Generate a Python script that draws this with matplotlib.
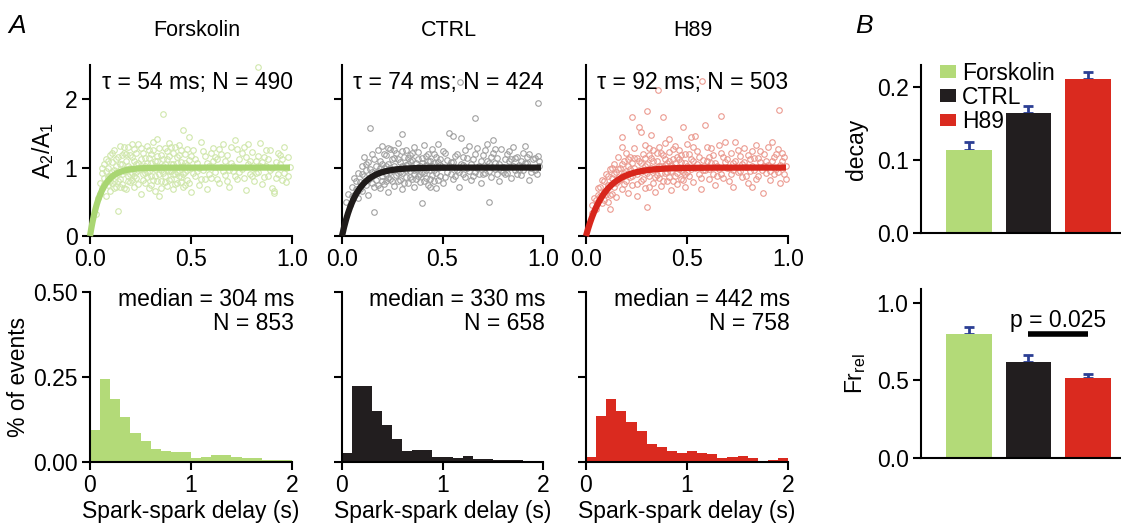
import numpy as np
import matplotlib
matplotlib.use("Agg")
import matplotlib.pyplot as plt
from matplotlib.patches import Patch

plt.rcParams['font.family'] = ['Liberation Sans', 'DejaVu Sans']
plt.rcParams['mathtext.fontset'] = 'custom'
plt.rcParams['mathtext.rm'] = 'Liberation Sans'
plt.rcParams['mathtext.it'] = 'Liberation Sans:italic'

# ---------------- data ----------------
groups = ["Forskolin", "CTRL", "H89"]
colors = ["#b3da78", "#221e1f", "#da2a1f"]
fit_colors = ["#a9d672", "#1f1b1a", "#d8261c"]
marker_colors = ["#d0e7ac", "#a0a0a0", "#eb9a90"]

tau_ms = [54, 74, 92]
n_pairs = [490, 424, 503]
median_ms = [304, 330, 442]
n_events = [853, 658, 758]

forskolin_scatter = [
 (0.03,0.32),(0.04,0.55),(0.05,0.62),(0.05,0.78),(0.06,0.70),(0.06,0.92),(0.07,0.85),(0.07,1.05),(0.08,0.58),(0.08,0.95),
 (0.08,1.12),(0.09,0.74),(0.09,0.99),(0.10,0.88),(0.10,1.18),(0.10,0.66),(0.11,0.93),(0.11,1.08),(0.12,0.80),(0.12,1.25),
 (0.12,0.97),(0.13,0.71),(0.13,1.02),(0.14,0.37),(0.14,0.90),(0.14,1.15),(0.15,0.83),(0.15,1.32),
 (0.16,1.05),(0.16,0.76),(0.17,0.95),(0.17,1.21),(0.18,0.68),(0.18,1.10),(0.19,0.88),(0.19,1.30),(0.20,1.00),(0.20,0.79),
 (0.21,1.16),(0.21,0.92),(0.22,0.72),(0.22,1.27),(0.23,1.05),(0.23,0.85),(0.24,0.96),(0.24,1.35),(0.25,0.62),(0.25,1.12),
 (0.26,0.90),(0.26,1.22),(0.27,0.78),(0.27,1.03),(0.28,0.94),(0.28,1.31),(0.29,0.70),(0.29,1.14),(0.30,0.87),(0.30,1.07),
 (0.31,1.25),(0.31,0.82),(0.32,0.98),(0.32,0.66),(0.33,1.42),(0.33,1.09),(0.34,0.91),(0.34,0.58),(0.35,1.19),(0.35,0.80),
 (0.36,1.78),(0.36,1.02),(0.37,0.88),(0.37,1.29),(0.38,0.73),(0.38,1.12),(0.39,0.95),(0.39,1.36),(0.40,0.84),(0.40,1.05),
 (0.41,0.68),(0.41,1.22),(0.42,1.00),(0.42,0.90),(0.43,1.15),(0.43,0.77),(0.44,1.33),(0.44,0.97),(0.45,0.86),(0.45,1.08),
 (0.46,1.55),(0.46,0.71),(0.47,1.20),(0.47,0.93),(0.48,1.04),(0.48,0.82),(0.49,1.45),(0.49,1.11),(0.50,0.64),(0.50,0.99),
 (0.51,1.26),(0.52,0.88),(0.53,1.06),(0.54,0.75),(0.55,1.37),(0.56,0.96),(0.57,1.17),(0.58,0.69),(0.59,1.03),(0.60,0.85),
 (0.61,1.28),(0.62,0.93),(0.63,1.12),(0.64,0.78),(0.65,1.01),(0.66,1.34),(0.67,0.89),(0.68,1.19),(0.69,0.72),(0.70,1.07),
 (0.71,0.95),(0.72,1.40),(0.73,0.83),(0.74,1.13),(0.75,0.98),(0.76,1.30),(0.77,0.67),(0.78,1.05),(0.79,0.90),(0.80,1.23),
 (0.81,0.80),(0.82,1.10),(0.83,2.47),(0.83,0.94),(0.84,1.36),(0.85,0.76),(0.86,1.16),(0.87,1.02),(0.88,0.87),(0.89,1.25),
 (0.90,0.70),(0.91,0.66),(0.91,0.63),(0.92,1.08),(0.93,0.91),(0.94,1.19),(0.95,0.82),(0.96,1.30),(0.97,1.00),(0.98,0.88),
 (0.99,1.01),(0.18,0.98),(0.20,1.18),(0.22,0.88),(0.24,1.07),(0.26,0.99),(0.28,0.86),(0.30,1.20),(0.32,1.10),(0.34,1.01),
 (0.36,0.92),(0.38,1.24),(0.40,0.95),(0.42,1.30),(0.44,0.88),(0.46,1.02),(0.48,1.27),(0.53,0.95),(0.57,0.84),(0.61,1.10),
 (0.65,1.20),(0.69,0.97),(0.73,1.27),(0.77,1.15),(0.81,0.99),(0.85,1.08),(0.89,0.96),(0.93,1.22),(0.97,0.79),
 (0.06,1.00),(0.07,0.76),(0.09,1.10),(0.10,0.80),(0.11,1.21),(0.12,0.70),(0.13,1.12),(0.14,0.80),(0.15,1.05),(0.16,0.91),
 (0.17,1.30),(0.17,0.70),(0.18,1.20),(0.19,0.80),(0.19,1.03),(0.20,0.90),(0.21,1.35),(0.21,0.82),(0.22,1.10),(0.23,0.94),
 (0.23,1.22),(0.24,0.76),(0.25,1.02),(0.25,1.29),(0.26,0.82),(0.27,1.14),(0.27,0.92),(0.28,1.06),(0.29,0.95),(0.29,1.25),
 (0.30,0.75),(0.31,0.99),(0.31,1.38),(0.32,0.88),(0.33,0.80),(0.33,1.17),(0.34,1.28),(0.35,0.96),(0.35,0.70),(0.36,1.13),
 (0.37,0.79),(0.37,1.05),(0.38,0.97),(0.39,0.82),(0.39,1.17),(0.40,1.30),(0.41,0.91),(0.41,1.05),(0.42,0.76),(0.43,1.06),
 (0.43,0.94),(0.44,1.19),(0.45,0.79),(0.45,1.26),(0.46,0.90),(0.47,1.06),(0.47,0.74),(0.48,0.96),(0.49,0.78),(0.50,1.17),
 (0.51,0.92),(0.52,1.12),(0.54,1.00),(0.55,0.83),(0.56,1.24),(0.58,1.07),(0.59,0.90),(0.60,1.21),(0.62,1.15),(0.63,0.84),
 (0.64,1.27),(0.66,0.95),(0.67,1.10),(0.68,0.80),(0.70,1.30),(0.71,1.02),(0.72,0.88),(0.74,0.93),(0.75,1.22),(0.76,0.85),
 (0.78,1.35),(0.79,1.10),(0.80,0.88),(0.82,0.92),(0.83,1.17),(0.84,1.03),(0.86,0.86),(0.87,1.26),(0.88,1.12),(0.90,1.00),
 (0.92,0.85),(0.94,1.05),(0.95,1.12),(0.96,0.92),(0.98,1.15),(0.09,0.86),(0.11,0.78),(0.13,0.92),(0.15,0.72),(0.16,1.18),
]

ctrl_scatter = [
 (0.02,0.50),(0.03,0.62),(0.04,0.45),(0.05,0.72),(0.06,0.60),(0.06,0.85),(0.07,0.68),(0.08,0.92),(0.08,0.55),(0.09,0.79),
 (0.10,1.02),(0.10,0.66),(0.11,0.88),(0.11,1.15),(0.12,0.74),(0.12,0.97),(0.13,0.60),(0.13,1.08),(0.14,1.58),(0.14,0.85),
 (0.15,1.20),(0.15,0.93),(0.16,0.35),(0.16,0.72),(0.17,1.03),(0.17,0.82),(0.18,1.25),(0.18,0.95),
 (0.19,0.70),(0.19,1.10),(0.20,0.88),(0.20,1.32),(0.21,0.99),(0.21,0.76),(0.22,1.18),(0.22,0.91),(0.23,1.05),(0.23,0.65),
 (0.24,0.84),(0.24,1.27),(0.25,0.97),(0.25,1.12),(0.26,0.73),(0.26,1.02),(0.27,1.21),(0.27,0.89),(0.28,0.80),(0.28,1.36),
 (0.29,1.08),(0.29,0.94),(0.30,1.49),(0.30,0.68),(0.31,1.00),(0.31,1.16),(0.32,0.86),(0.32,1.26),(0.33,0.77),(0.33,1.05),
 (0.34,0.95),(0.34,1.19),(0.35,0.83),(0.35,1.11),(0.36,1.30),(0.36,0.72),(0.37,0.98),(0.37,1.07),(0.38,0.88),(0.38,1.23),
 (0.39,1.02),(0.39,0.79),(0.40,0.48),(0.40,1.14),(0.41,0.92),(0.41,1.33),(0.42,1.04),(0.42,0.85),(0.43,0.74),(0.43,1.20),
 (0.44,0.96),(0.44,1.10),(0.45,1.27),(0.45,0.89),(0.46,0.81),(0.46,1.06),(0.47,1.16),(0.47,0.70),(0.48,0.99),(0.48,1.35),
 (0.49,0.87),(0.49,1.13),(0.50,1.01),(0.50,0.78),
 (0.51,1.22),(0.52,0.93),(0.53,1.50),(0.54,1.08),(0.55,1.46),(0.55,0.84),(0.56,1.17),(0.57,0.96),(0.58,0.72),(0.59,1.44),
 (0.59,1.05),(0.586,2.25),(0.60,0.90),(0.61,1.25),(0.62,0.99),(0.63,1.32),(0.64,0.82),(0.65,1.12),(0.66,1.73),(0.66,0.94),
 (0.67,1.28),(0.68,1.03),(0.69,0.77),(0.70,1.18),(0.71,0.92),(0.72,1.35),(0.73,0.49),(0.73,1.07),(0.74,0.86),(0.75,1.40),
 (0.75,1.21),(0.76,0.98),(0.77,1.14),(0.78,0.80),(0.79,1.27),(0.80,1.01),(0.81,0.90),(0.82,1.20),(0.83,1.09),(0.84,0.85),
 (0.85,1.30),(0.86,0.96),(0.87,1.16),(0.88,1.04),(0.89,0.89),(0.90,1.22),(0.91,1.32),(0.92,1.06),(0.93,0.82),(0.94,0.93),
 (0.95,1.12),(0.96,0.97),(0.975,1.17),(0.975,1.94),(0.98,1.02),
 (0.20,1.05),(0.22,0.80),(0.24,1.00),(0.26,1.14),(0.28,0.92),(0.30,1.03),(0.32,0.96),(0.34,1.09),(0.36,0.90),(0.38,1.01),
 (0.40,0.93),(0.42,1.17),(0.44,0.83),(0.46,0.97),(0.48,1.08),(0.52,1.11),(0.56,0.88),(0.60,1.15),(0.64,1.05),(0.68,0.91),
 (0.72,1.10),(0.76,1.06),(0.80,0.94),(0.84,1.13),(0.88,0.97),(0.92,1.15),
 (0.05,0.58),(0.07,0.80),(0.09,0.68),(0.10,0.90),(0.12,1.05),(0.13,0.82),(0.14,0.98),(0.15,0.78),(0.16,1.12),(0.17,0.92),
 (0.18,0.74),(0.19,1.00),(0.20,0.80),(0.21,1.20),(0.22,1.02),(0.23,0.85),(0.23,1.28),(0.24,0.93),(0.25,0.80),(0.26,1.25),
 (0.27,0.98),(0.28,1.12),(0.29,0.82),(0.30,0.92),(0.30,1.24),(0.31,0.78),(0.32,1.04),(0.33,1.14),(0.34,0.86),(0.35,1.01),
 (0.35,1.22),(0.36,0.96),(0.37,0.84),(0.38,1.12),(0.39,0.90),(0.40,1.06),(0.41,0.80),(0.42,0.96),(0.43,1.10),(0.44,0.72),
 (0.45,1.03),(0.46,1.20),(0.47,0.92),(0.48,0.82),(0.49,1.04),(0.50,1.24),(0.51,0.86),(0.53,1.02),(0.54,0.90),(0.55,1.08),
 (0.57,1.20),(0.58,0.94),(0.60,1.04),(0.61,0.86),(0.62,1.14),(0.63,0.95),(0.65,0.88),(0.66,1.20),(0.67,1.00),(0.69,1.10),
 (0.70,0.90),(0.71,1.26),(0.73,0.95),(0.74,1.15),(0.76,1.27),(0.77,0.90),(0.78,1.05),(0.79,0.96),(0.81,1.12),(0.82,0.92),
 (0.83,1.24),(0.85,1.02),(0.86,1.14),(0.87,0.90),(0.89,1.10),(0.90,0.96),(0.91,1.06),(0.93,1.20),(0.94,1.00),(0.96,1.14),
 (0.97,0.90),(0.98,1.10),
]

h89_scatter = [
 (0.03,0.33),(0.03,0.45),(0.04,0.55),(0.05,0.40),(0.06,0.70),(0.07,0.58),(0.08,0.82),(0.08,0.48),(0.09,0.65),(0.10,0.90),
 (0.11,0.50),(0.11,0.75),(0.12,0.40),(0.12,0.98),(0.13,0.62),(0.13,0.85),(0.14,1.05),(0.14,0.72),(0.15,0.93),(0.15,0.57),
 (0.16,1.15),(0.16,0.80),(0.177,1.45),(0.177,1.30),(0.17,0.99),(0.18,0.68),(0.18,0.88),(0.19,1.10),(0.19,0.76),
 (0.20,0.95),(0.20,1.22),(0.21,0.63),(0.21,1.03),(0.22,0.86),(0.22,1.16),(0.23,1.74),(0.23,0.74),(0.24,1.00),(0.24,1.28),
 (0.25,0.90),(0.25,0.58),(0.26,1.59),(0.26,1.09),(0.27,1.52),(0.27,0.81),(0.28,1.20),(0.28,0.97),(0.29,0.70),(0.29,1.33),
 (0.30,1.83),(0.30,0.43),(0.30,1.05),(0.31,0.88),(0.32,1.47),(0.32,1.14),(0.33,0.77),(0.33,1.25),(0.34,0.99),(0.34,0.64),
 (0.354,2.14),(0.35,1.10),(0.36,0.85),(0.36,1.30),(0.37,1.02),(0.37,0.73),(0.38,1.74),(0.38,1.18),(0.39,0.92),(0.39,1.36),
 (0.40,1.06),(0.40,0.80),(0.41,1.42),(0.41,1.23),(0.42,0.95),(0.42,0.67),(0.43,1.12),(0.43,1.01),(0.44,0.87),(0.44,1.32),
 (0.45,1.16),(0.45,0.76),(0.46,0.98),(0.46,1.26),(0.47,0.84),(0.47,1.08),(0.48,1.59),(0.48,0.94),(0.49,1.20),(0.49,0.71),
 (0.50,1.03),(0.50,1.35),
 (0.51,0.88),(0.52,1.45),(0.52,1.13),(0.53,0.79),(0.54,1.46),(0.54,1.00),(0.55,1.24),(0.56,0.91),(0.57,0.68),(0.574,2.27),
 (0.58,1.11),(0.59,1.62),(0.59,0.97),(0.60,1.30),(0.61,0.83),(0.62,1.07),(0.63,1.19),(0.64,0.74),(0.65,1.02),(0.66,1.33),
 (0.668,1.75),(0.67,0.90),(0.68,1.15),(0.69,1.37),(0.70,0.99),(0.71,0.80),(0.72,1.22),(0.73,0.71),(0.73,1.06),(0.74,1.37),
 (0.75,0.93),(0.76,1.17),(0.77,0.86),(0.78,1.28),(0.79,1.01),(0.80,0.77),(0.81,1.12),(0.82,0.72),(0.82,1.24),(0.83,0.96),
 (0.84,1.33),(0.85,0.88),(0.86,1.08),(0.876,0.63),(0.88,1.20),(0.89,0.92),(0.90,1.04),(0.91,0.82),(0.92,1.37),(0.93,1.15),
 (0.94,0.98),(0.95,1.27),(0.957,1.84),(0.96,0.78),(0.97,1.10),(0.98,0.90),(0.99,1.03),
 (0.21,0.91),(0.23,1.06),(0.25,1.14),(0.27,0.93),(0.29,1.02),(0.31,1.18),(0.33,0.96),(0.35,0.89),(0.37,1.21),(0.39,1.04),
 (0.41,0.86),(0.43,1.27),(0.45,1.00),(0.47,1.19),(0.49,0.90),(0.53,1.09),(0.57,1.01),(0.61,1.16),(0.65,0.87),(0.69,1.08),
 (0.73,0.97),(0.77,1.05),(0.81,0.95),(0.85,1.14),(0.89,1.09),(0.93,0.90),(0.97,1.21),(0.12,0.60),(0.09,0.52),
 (0.05,0.52),(0.06,0.60),(0.07,0.72),(0.09,0.80),(0.10,0.62),(0.11,0.88),(0.13,1.00),(0.14,0.90),(0.15,0.78),(0.16,0.98),
 (0.17,0.84),(0.18,1.05),(0.19,0.92),(0.20,0.80),(0.21,1.12),(0.22,0.98),(0.23,0.88),(0.24,1.14),(0.25,0.76),(0.26,0.96),
 (0.27,1.06),(0.28,0.84),(0.29,1.14),(0.30,0.92),(0.31,1.28),(0.31,0.72),(0.32,1.00),(0.33,1.09),(0.34,0.86),(0.35,1.22),
 (0.36,1.02),(0.37,0.92),(0.38,0.80),(0.39,1.12),(0.40,0.94),(0.41,1.10),(0.42,1.04),(0.43,0.80),(0.44,1.06),(0.45,0.92),
 (0.46,1.12),(0.47,0.96),(0.48,0.82),(0.49,1.06),(0.50,0.93),(0.51,1.20),(0.52,0.98),(0.53,1.30),(0.55,1.05),(0.56,1.16),
 (0.57,0.85),(0.58,0.96),(0.60,1.10),(0.61,0.98),(0.62,1.28),(0.63,0.91),(0.64,1.06),(0.66,0.98),(0.67,1.22),(0.68,0.85),
 (0.70,1.12),(0.71,1.00),(0.72,0.90),(0.74,1.10),(0.75,1.26),(0.76,0.95),(0.78,1.08),(0.79,0.88),(0.80,1.18),(0.82,1.02),
 (0.83,1.14),(0.84,0.84),(0.86,1.24),(0.87,0.96),(0.88,1.03),(0.90,1.30),(0.91,0.95),(0.92,1.10),(0.94,1.20),(0.95,0.94),
 (0.96,1.04),(0.98,1.16),(0.99,0.84),
]

# histogram: 0.1 s bins from 0 to 2 s (fraction of events)
hist_bin_edges = [round(0.1 * i, 1) for i in range(21)]
forskolin_hist = [0.093, 0.243, 0.184, 0.132, 0.085, 0.061, 0.037, 0.032, 0.029, 0.028,
                  0.012, 0.014, 0.019, 0.020, 0.013, 0.012, 0.010, 0.005, 0.005, 0.004]
ctrl_hist = [0.025, 0.222, 0.224, 0.148, 0.107, 0.068, 0.031, 0.034, 0.034, 0.013,
             0.014, 0.012, 0.016, 0.009, 0.007, 0.006, 0.005, 0.004, 0.003, 0.001]
h89_hist = [0.013, 0.134, 0.183, 0.148, 0.116, 0.089, 0.053, 0.042, 0.031, 0.026,
            0.031, 0.025, 0.024, 0.011, 0.015, 0.018, 0.011, 0.001, 0.005, 0.010]

decay_mean = [0.114, 0.164, 0.211]
decay_sem = [0.011, 0.010, 0.009]
fr_mean = [0.801, 0.622, 0.518]
fr_sem = [0.048, 0.043, 0.024]
p_value_text = "p = 0.025"

scatters = [forskolin_scatter, ctrl_scatter, h89_scatter]
hists = [forskolin_hist, ctrl_hist, h89_hist]

# ---------------- figure ----------------
W, H = 1121, 527
fig = plt.figure(figsize=(W / 100, H / 100), dpi=100)
FS = 16.5
LW = 1.5

def px_axes(x0, y_top, x1, y_bot):
    return fig.add_axes([x0 / W, 1 - y_bot / H, (x1 - x0) / W, (y_bot - y_top) / H])

def style(ax):
    for s in ['top', 'right']:
        ax.spines[s].set_visible(False)
    for s in ['left', 'bottom']:
        ax.spines[s].set_linewidth(LW)
    ax.tick_params(direction='out', length=6, width=LW, labelsize=FS, pad=3)

top_x = [(90, 292), (342, 543), (586, 788)]
for i in range(3):
    x0, x1 = top_x[i]
    # scatter panel
    ax = px_axes(x0, 65, x1, 236)
    style(ax)
    pts = np.array(scatters[i])
    ax.plot(pts[:, 0], pts[:, 1], 'o', mfc='none', mec=marker_colors[i], ms=4.0, mew=0.8,
            clip_on=False, zorder=2)
    t = np.linspace(0, 0.99, 300)
    tau = tau_ms[i] / 1000.0
    ax.plot(t, 1 - np.exp(-t / tau), color=fit_colors[i], lw=4.5, zorder=3,
            solid_capstyle='butt', clip_on=False)
    ax.set_xlim(0, 1.0)
    ax.set_ylim(0, 2.5)
    ax.set_xticks([0, 0.5, 1.0])
    ax.set_xticklabels(["0.0", "0.5", "1.0"])
    ax.set_yticks([0, 1, 2])
    if i == 0:
        ax.set_yticklabels(["0", "1", "2"])
        ax.set_ylabel(r"$\mathrm{A_2/A_1}$", fontsize=FS, labelpad=6)
    else:
        ax.set_yticklabels([])
    ax.text(0.53, 0.90, u"\u03c4 = %d ms; N = %d" % (tau_ms[i], n_pairs[i]),
            transform=ax.transAxes, ha='center', va='center', fontsize=FS, zorder=5)
    fig.text(((x0 + x1) / 2 + 6) / W, 1 - 30 / H, groups[i], ha='center', va='center',
             fontsize=15.5)

    # histogram panel
    axh = px_axes(x0, 291.7, x1, 461.7)
    style(axh)
    edges = hist_bin_edges
    axh.bar(edges[:-1], hists[i], width=0.1, align='edge', color=colors[i],
            edgecolor='none', linewidth=0)
    axh.set_xlim(0, 2)
    axh.set_ylim(0, 0.5)
    axh.set_xticks([0, 1, 2])
    axh.set_xticklabels(["0", "1", "2"])
    axh.set_yticks([0, 0.25, 0.5])
    if i == 0:
        axh.set_yticklabels(["0.00", "0.25", "0.50"])
        axh.set_ylabel("% of events", fontsize=FS, labelpad=2)
    else:
        axh.set_yticklabels([])
    axh.set_xlabel("Spark-spark delay (s)", fontsize=FS, labelpad=2)
    axh.text(1.01, 0.955, "median = %d ms" % median_ms[i], transform=axh.transAxes,
             ha='right', va='center', fontsize=FS)
    axh.text(1.01, 0.815, "N = %d" % n_events[i], transform=axh.transAxes,
             ha='right', va='center', fontsize=FS)

# ---------------- panel B ----------------
xpos = np.arange(3)
err_color = "#2b3f94"

axd = px_axes(921, 65, 1121, 233.3)
style(axd)
axd.bar(xpos, decay_mean, width=0.77, color=colors, zorder=2)
axd.errorbar(xpos, decay_mean, yerr=[[0, 0, 0], decay_sem], fmt='none', ecolor=err_color,
             elinewidth=2, capsize=3.5, capthick=2, zorder=1)
axd.set_xlim(-0.807, 2.555)
axd.set_ylim(0, 0.23)
axd.set_xticks([])
axd.set_yticks([0, 0.1, 0.2])
axd.set_yticklabels(["0.0", "0.1", "0.2"])
axd.set_ylabel("decay", fontsize=FS, labelpad=6)
handles = [Patch(facecolor=c, edgecolor='none') for c in colors]
axd.legend(handles, groups, loc='upper left', bbox_to_anchor=(0.095, 1.02), frameon=False,
           fontsize=FS, handlelength=0.7, handleheight=0.45, handletextpad=0.25,
           labelspacing=0.05, borderaxespad=0, borderpad=0)

axf = px_axes(921, 289.3, 1121, 457.7)
style(axf)
axf.bar(xpos, fr_mean, width=0.77, color=colors, zorder=2)
axf.errorbar(xpos, fr_mean, yerr=[[0, 0, 0], fr_sem], fmt='none', ecolor=err_color,
             elinewidth=2, capsize=3.5, capthick=2, zorder=1)
axf.set_xlim(-0.807, 2.555)
axf.set_ylim(0, 1.09)
axf.set_xticks([])
axf.set_yticks([0, 0.5, 1.0])
axf.set_yticklabels(["0.0", "0.5", "1.0"])
axf.set_ylabel(r"$\mathrm{Fr_{rel}}$", fontsize=FS, labelpad=6)
axf.plot([1, 2], [0.80, 0.80], color='black', lw=4, solid_capstyle='butt')
axf.text(1.5, 0.89, p_value_text, ha='center', va='center', fontsize=FS)

fig.text(8 / W, 1 - 26 / H, "A", fontsize=19, style='italic', ha='left', va='center')
fig.text(855 / W, 1 - 26 / H, "B", fontsize=19, style='italic', ha='left', va='center')

fig.savefig("out.png", dpi=100)
